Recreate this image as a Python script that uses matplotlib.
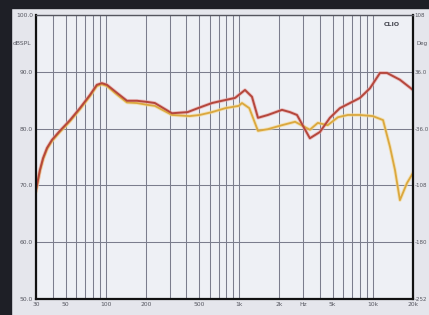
import numpy as np
import matplotlib.pyplot as plt
from matplotlib.ticker import LogLocator, NullFormatter, FixedLocator
from matplotlib.patches import Rectangle

# frequency response, two traces (Hz, dBSPL)
red_freq = [30, 31, 32.1, 33.9, 36.3, 39.5, 45.3, 54, 64, 76, 85.7, 93.4, 102, 121,
            144, 171, 203, 233, 313, 410, 490, 624, 742, 929, 1103, 1244, 1380, 1637,
            2087, 2395, 2704, 3377, 4013, 4770, 5670, 6740, 8010, 9520, 11320, 12760,
            15960, 20000]
red_db = [69.2, 70.9, 72.7, 74.8, 76.6, 78.0, 79.6, 81.5, 83.6, 85.9, 87.7, 88.0, 87.7, 86.3,
          84.9, 84.9, 84.7, 84.5, 82.7, 82.9, 83.6, 84.5, 84.9, 85.4, 86.8, 85.6, 81.9, 82.4,
          83.3, 82.9, 82.4, 78.3, 79.4, 81.9, 83.6, 84.5, 85.4, 87.1, 89.8, 89.8,
          88.6, 86.8]

yel_freq = [30, 31, 32.1, 33.9, 36.3, 39.5, 45.3, 54, 64, 76, 85.7, 93.4, 102, 121,
            144, 171, 203, 233, 313, 425, 505, 624, 787, 990, 1047, 1188, 1380, 1637,
            2087, 2617, 3377, 3870, 4590, 5480, 6500, 8010, 10000, 11930, 13440, 14660,
            15960, 18020, 20000]
yel_db = [69.0, 70.7, 72.5, 74.6, 76.4, 77.8, 79.4, 81.3, 83.4, 85.7, 87.5, 87.8, 87.5, 86.0,
          84.6, 84.5, 84.2, 84.0, 82.4, 82.2, 82.4, 82.9, 83.6, 84.0, 84.5, 83.6, 79.6, 79.9,
          80.6, 81.2, 79.8, 81.0, 80.6, 82.0, 82.4, 82.4, 82.2, 81.5, 76.8, 72.7,
          67.4, 70.4, 72.2]

x_ticks = [30, 50, 100, 200, 500, 1000, 2000, 3000, 5000, 10000, 20000]
x_labels = ['30', '50', '100', '200', '500', '1k', '2k', 'Hz', '5k', '10k', '20k']
db_ticks = [50, 60, 70, 80, 90, 100]
deg_ticks = [-252, -180, -108, -36, 36, 108]
deg_labels = ['-252', '-180', '-108', '-36.0', '36.0', '108']

fig = plt.figure(figsize=(4.29, 3.15), dpi=100)
fig.patch.set_facecolor('#e5e6ec')
# dark photo edges
fig.patches.append(Rectangle((0, 0), 11 / 429, 1, transform=fig.transFigure,
                             color='#1e1f26', zorder=-1))
fig.patches.append(Rectangle((0, 1 - 8 / 315), 1, 8 / 315, transform=fig.transFigure,
                             color='#1e1f26', zorder=-1))

ax = fig.add_axes([36 / 429, 16 / 315, 377 / 429, 284 / 315])
ax.set_facecolor('#eef0f5')
ax.set_xscale('log')
ax.set_xlim(30, 20000)
ax.set_ylim(50, 100)

ax.xaxis.set_minor_locator(LogLocator(base=10, subs=np.arange(1, 10)))
ax.xaxis.set_minor_formatter(NullFormatter())
ax.xaxis.set_major_locator(FixedLocator(x_ticks))
ax.set_xticklabels(x_labels)
ax.grid(True, which='minor', axis='x', color='#7b7d8d', lw=0.75)
ax.grid(True, which='major', axis='x', color='#7b7d8d', lw=0.75)
ax.set_yticks(db_ticks)
ax.set_yticklabels([f'{v:.1f}' for v in db_ticks])
ax.grid(True, which='major', axis='y', color='#7b7d8d', lw=0.75)
ax.set_axisbelow(True)

ax.plot(yel_freq, yel_db, color='#f5d890', lw=2.6, alpha=0.6)
ax.plot(red_freq, red_db, color='#e8a0a0', lw=2.6, alpha=0.6)
ax.plot(yel_freq, yel_db, color='#dba83e', lw=1.3)
ax.plot(red_freq, red_db, color='#b5473c', lw=1.4)

ax.tick_params(axis='both', which='both', length=0, labelsize=4.3,
               labelcolor='#55565f', pad=2)
for s in ['left', 'bottom', 'right']:
    ax.spines[s].set_color('#111111')
    ax.spines[s].set_linewidth(1.6)
ax.spines['top'].set_color('#55565f')
ax.spines['top'].set_linewidth(1.0)

ax2 = ax.twinx()
ax2.set_ylim(-252, 108)
ax2.set_yticks(deg_ticks)
ax2.set_yticklabels(deg_labels)
ax2.tick_params(axis='y', length=0, labelsize=4.0, labelcolor='#55565f', pad=1.2)
for s in ax2.spines.values():
    s.set_visible(False)

ax.text(-0.012, 0.9, 'dBSPL', transform=ax.transAxes, ha='right', va='center',
        fontsize=4.3, color='#55565f')
ax.text(1.008, 0.9, 'Deg', transform=ax.transAxes, ha='left', va='center',
        fontsize=4.0, color='#55565f')
ax.text(0.965, 0.975, 'CLIO', transform=ax.transAxes, ha='right', va='top',
        fontsize=4.5, color='#44454f', fontweight='bold')

fig.savefig('out.png', dpi=100, facecolor=fig.get_facecolor())
